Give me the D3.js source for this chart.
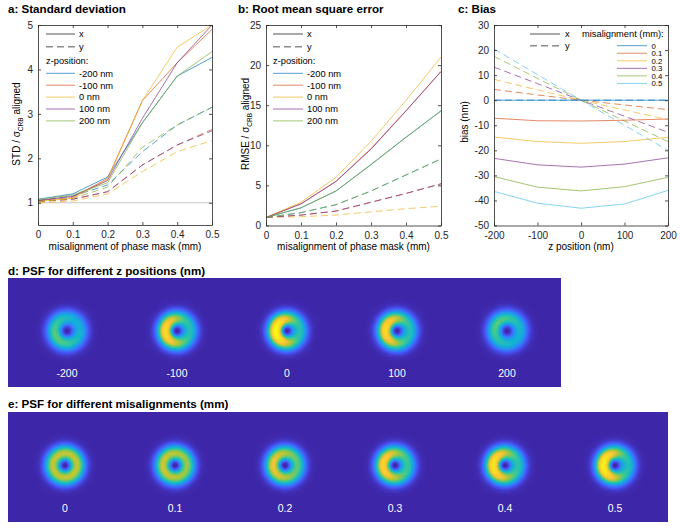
<!DOCTYPE html>
<html>
<head>
<meta charset="utf-8">
<script src="https://cdn.jsdelivr.net/npm/d3@7"></script>
<style>
body { margin: 0; background: #fff; }
text { font-family: "Liberation Sans", Arial, sans-serif; }
</style>
</head>
<body>
<script>
// ---- data ----
var misalign = [0, 0.1, 0.2, 0.3, 0.4, 0.5];
var zNames = ["-200 nm", "-100 nm", "0 nm", "100 nm", "200 nm"];
var zColors = ["#0072BD", "#D95319", "#EDB120", "#7E2F8E", "#77AC30"];

// a: STD / sigma_CRB aligned, per z position (rows) over misalignment
var stdX = [
    [1.08, 1.20, 1.58, 2.80, 3.85, 4.27],
    [1.05, 1.12, 1.55, 3.30, 4.15, 4.90],
    [1.03, 1.10, 1.52, 3.30, 4.50, 5.00],
    [1.05, 1.15, 1.50, 2.90, 4.15, 5.00],
    [1.07, 1.18, 1.45, 2.80, 3.85, 4.40]
];
var stdY = [
    [1.05, 1.15, 1.40, 2.15, 2.75, 3.15],
    [1.03, 1.08, 1.25, 1.85, 2.30, 2.65],
    [1.00, 1.04, 1.20, 1.70, 2.15, 2.40],
    [1.03, 1.08, 1.25, 1.85, 2.30, 2.62],
    [1.02, 1.10, 1.35, 2.25, 2.75, 3.15]
];

// b: RMSE / sigma_CRB aligned
var rmseX = [
    [1.0, 2.2, 4.3, 7.6, 11.0, 14.3],
    [1.0, 2.7, 5.5, 9.6, 14.3, 19.2],
    [1.0, 2.9, 6.0, 10.5, 15.6, 21.0],
    [1.0, 2.7, 5.5, 9.5, 14.3, 19.2],
    [1.0, 2.2, 4.3, 7.6, 11.0, 14.3]
];
var rmseY = [
    [1.0, 1.6, 2.6, 4.3, 6.3, 8.3],
    [1.0, 1.3, 1.8, 2.9, 4.0, 5.2],
    [1.0, 1.1, 1.3, 1.7, 2.1, 2.4],
    [1.0, 1.3, 1.8, 2.9, 4.0, 5.2],
    [1.0, 1.6, 2.6, 4.3, 6.3, 8.3]
];

// c: bias (nm) over z position, per misalignment
var zPos = [-200, -100, 0, 100, 200];
var misNames = ["0", "0.1", "0.2", "0.3", "0.4", "0.5"];
var misColors = ["#0072BD", "#D95319", "#EDB120", "#7E2F8E", "#77AC30", "#4DBEEE"];
var biasX = [
    [0, 0, 0, 0, 0],
    [-7.2, -8.2, -8.3, -8.0, -7.5],
    [-14.7, -16.5, -17.2, -16.5, -14.8],
    [-23.2, -25.8, -26.7, -25.5, -23.0],
    [-30.5, -34.7, -36.2, -34.5, -30.8],
    [-36.4, -41.1, -43.1, -41.4, -36.0]
];
var biasY = [
    [0, 0, 0, 0, 0],
    [4.3, 2.1, 0, -1.9, -3.8],
    [8.3, 4.1, 0, -3.9, -7.8],
    [13.2, 6.6, 0, -6.4, -12.8],
    [17.5, 8.7, 0, -8.3, -16.5],
    [20.5, 10.2, 0, -10.0, -20.0]
];

// d/e: PSF images
var psfZLabels = ["-200", "-100", "0", "100", "200"];
var psfZPeak = [0.55, 0.86, 1.0, 0.86, 0.54];
var psfZAsym = [0.2, 0.34, 0.4, 0.34, 0.18];
var psfZAngle = [150, 175, 180, 185, 215];
var psfZRadius = [12.5, 12, 11.5, 12, 12.5];
var psfMLabels = ["0", "0.1", "0.2", "0.3", "0.4", "0.5"];
var psfMPeak = [0.66, 0.68, 0.74, 0.83, 0.91, 0.97];
var psfMAsym = [0.0, 0.06, 0.16, 0.27, 0.34, 0.4];
var psfMAngle = [180, 180, 180, 180, 180, 180];
var psfMRadius = [12, 12, 12, 12, 12, 12];

var parulaStops = ["#3e26a8", "#4752f4", "#2d87f7", "#12b1d6", "#37c897",
                   "#abc739", "#fec338", "#f5e21c", "#f9fb15"];

// ---- drawing ----
var W = 680, H = 531;
var ink = "#262626";
var svg = d3.select("body").append("svg")
    .attr("width", W).attr("height", H);

function boxAxes(x, y, xTicks, yTicks) {
    var g = svg.append("g");
    var x0 = x.range()[0], x1 = x.range()[1], y0 = y.range()[0], y1 = y.range()[1];
    var fmt = function(d) { return String(d); };

    g.append("g").attr("transform", "translate(0," + y0 + ")")
        .call(d3.axisBottom(x).tickValues(xTicks).tickSize(-3).tickSizeOuter(0).tickPadding(6).tickFormat(fmt));
    g.append("g").attr("transform", "translate(0," + y1 + ")")
        .call(d3.axisTop(x).tickValues(xTicks).tickSize(-3).tickSizeOuter(0).tickFormat(""));
    g.append("g").attr("transform", "translate(" + x0 + ",0)")
        .call(d3.axisLeft(y).tickValues(yTicks).tickSize(-3).tickSizeOuter(0).tickPadding(5).tickFormat(fmt));
    g.append("g").attr("transform", "translate(" + x1 + ",0)")
        .call(d3.axisRight(y).tickValues(yTicks).tickSize(-3).tickSizeOuter(0).tickFormat(""));

    g.selectAll("path.domain").attr("stroke", ink).attr("stroke-width", 0.8);
    g.selectAll(".tick line").attr("stroke", ink).attr("stroke-width", 0.8);
    g.selectAll(".tick text").attr("fill", ink).style("font-size", "10px")
        .style("font-family", '"Liberation Sans", Arial, sans-serif');
    return g;
}

function drawSeries(layer, xs, rows, x, y, colors, dashed) {
    var line = d3.line().x(function(d, i) { return x(xs[i]); }).y(function(d) { return y(d); });
    layer.selectAll(null).data(rows).enter().append("path")
        .attr("d", line)
        .attr("fill", "none")
        .attr("stroke", function(d, i) { return colors[i]; })
        .attr("stroke-opacity", 0.68)
        .attr("stroke-width", 1)
        .attr("stroke-dasharray", dashed ? "7,4" : null);
}

function legendLine(g, xa, xb, yy, color, dashed, label, tx, size) {
    g.append("line").attr("x1", xa).attr("x2", xb).attr("y1", yy).attr("y2", yy)
        .attr("stroke", color).attr("stroke-width", 1.5)
        .attr("stroke-dasharray", dashed ? "7,4" : null);
    g.append("text").attr("x", tx).attr("y", yy + 3.3).attr("fill", "#000")
        .style("font-size", size + "px").text(label);
}

function title(tx, ty, s) {
    svg.append("text").attr("x", tx).attr("y", ty)
        .style("font-size", "11.6px").style("font-weight", "bold").text(s);
}

function ylabel(cx, cy, main, sub, rest) {
    var t = svg.append("text").attr("transform", "translate(" + cx + "," + cy + ") rotate(-90)")
        .attr("text-anchor", "middle").style("font-size", "10px").attr("fill", "#000");
    t.append("tspan").text(main);
    if (sub) {
        t.append("tspan").attr("dy", 2.5).style("font-size", "6.5px").text(sub);
        t.append("tspan").attr("dy", -2.5).text(rest);
    }
}

function xlabel(cx, cy, s) {
    svg.append("text").attr("x", cx).attr("y", cy).attr("text-anchor", "middle")
        .style("font-size", "10px").text(s);
}

function zLegend(g, xa, xb, tx) {
    legendLine(g, xa, xb, 34, "#8c8c8c", false, "x", tx, 9.3);
    legendLine(g, xa, xb, 46.7, "#8c8c8c", true, "y", tx, 9.3);
    g.append("text").attr("x", xa).attr("y", 64).style("font-size", "9.3px").text("z-position:");
    zNames.forEach(function(n, i) {
        g.append("line").attr("x1", xa).attr("x2", xb)
            .attr("y1", 73.3 + i * 11.9).attr("y2", 73.3 + i * 11.9)
            .attr("stroke", zColors[i]).attr("stroke-opacity", 0.68).attr("stroke-width", 1);
        g.append("text").attr("x", tx).attr("y", 76.6 + i * 11.9)
            .style("font-size", "9.3px").text(n);
    });
}

// ---------- panel a ----------
var xa = d3.scaleLinear().domain([0, 0.5]).range([38, 212]);
var ya = d3.scaleLinear().domain([0.5, 5]).range([225, 25]);
svg.append("line").attr("x1", xa(0)).attr("x2", xa(0.5)).attr("y1", ya(1)).attr("y2", ya(1))
    .attr("stroke", "#c8c8c8").attr("stroke-width", 1);
var la = svg.append("g");
drawSeries(la, misalign, stdY, xa, ya, zColors, true);
drawSeries(la, misalign, stdX, xa, ya, zColors, false);
boxAxes(xa, ya, misalign, [1, 2, 3, 4, 5]);
zLegend(svg.append("g"), 46, 75, 79);
title(8, 12.5, "a: Standard deviation");
ylabel(20, 124, "STD / \u03c3", "CRB", " aligned");
xlabel(125, 250, "misalignment of phase mask (mm)");

// ---------- panel b ----------
var xb = d3.scaleLinear().domain([0, 0.5]).range([266, 441]);
var yb = d3.scaleLinear().domain([0, 25]).range([225.5, 25]);
var lb = svg.append("g");
drawSeries(lb, misalign, rmseY, xb, yb, zColors, true);
drawSeries(lb, misalign, rmseX, xb, yb, zColors, false);
boxAxes(xb, yb, misalign, [0, 5, 10, 15, 20, 25]);
zLegend(svg.append("g"), 273, 303, 307);
title(238, 12.5, "b: Root mean square error");
ylabel(249, 124, "RMSE / \u03c3", "CRB", " aligned");
xlabel(353.5, 250, "misalignment of phase mask (mm)");

// ---------- panel c ----------
var xc = d3.scaleLinear().domain([-200, 200]).range([494, 668]);
var yc = d3.scaleLinear().domain([-50, 30]).range([225.5, 25]);
var lc = svg.append("g");
drawSeries(lc, zPos, biasY, xc, yc, misColors, true);
drawSeries(lc, zPos, biasX, xc, yc, misColors, false);
boxAxes(xc, yc, zPos, [-50, -40, -30, -20, -10, 0, 10, 20, 30]);
var gc = svg.append("g");
legendLine(gc, 530, 560, 34, "#8c8c8c", false, "x", 565, 9.3);
legendLine(gc, 530, 560, 45.7, "#8c8c8c", true, "y", 565, 9.3);
gc.append("text").attr("x", 582).attr("y", 37.3).style("font-size", "9.3px").text("misalignment (mm):");
misNames.forEach(function(n, i) {
    var yy = 45.7 + i * 7.55;
    gc.append("line").attr("x1", 617).attr("x2", 647).attr("y1", yy).attr("y2", yy)
        .attr("stroke", misColors[i]).attr("stroke-opacity", 0.68).attr("stroke-width", 1);
    gc.append("text").attr("x", 651.5).attr("y", yy + 2.8).style("font-size", "7.8px").text(n);
});
title(458, 12.5, "c: Bias");
ylabel(468, 122, "bias (nm)");
xlabel(581, 250, "z position (nm)");

// ---------- PSF panels ----------
var parula = d3.scaleLinear()
    .domain(d3.range(parulaStops.length).map(function(i) { return i / (parulaStops.length - 1); }))
    .range(parulaStops).interpolate(d3.interpolateRgb).clamp(true);

function psfPanel(bx, by, bw, bh, labels, peak, asym, angle, radius, bandRange, labelY) {
    var band = d3.scaleBand().domain(labels).range(bandRange);
    var cy = bh * 0.485;
    var canvas = document.createElement("canvas");
    canvas.width = bw; canvas.height = bh;
    var ctx = canvas.getContext("2d");
    var img = ctx.createImageData(bw, bh);
    var centers = labels.map(function(l) { return band(l) + band.bandwidth() / 2 - bx; });
    for (var py = 0; py < bh; py++) {
        for (var px = 0; px < bw; px++) {
            var v = 0;
            for (var k = 0; k < centers.length; k++) {
                var dx = px + 0.5 - centers[k], dy = py + 0.5 - cy;
                var r = Math.sqrt(dx * dx + dy * dy);
                if (r > 40) continue;
                var R0 = radius[k], s = 6;
                var ring = Math.exp(-(r - R0) * (r - R0) / (2 * s * s)) * (1 - Math.exp(-r * r / 16));
                var a = angle[k] * Math.PI / 180;
                var c = r > 0 ? (dx * Math.cos(a) + dy * Math.sin(a)) / r : 0;
                // crescent concentrated on the inner half of the ring
                var inner = Math.exp(-(r - R0 + 2) * (r - R0 + 2) / (2 * 5 * 5));
                var mod = (1 + asym[k] * c * (0.4 + 0.6 * inner)) / (1 + asym[k]);
                v += peak[k] * ring * mod;
            }
            var col = d3.rgb(parula(v));
            var o = (py * bw + px) * 4;
            img.data[o] = col.r; img.data[o + 1] = col.g; img.data[o + 2] = col.b; img.data[o + 3] = 255;
        }
    }
    ctx.putImageData(img, 0, 0);
    svg.append("image").attr("x", bx).attr("y", by).attr("width", bw).attr("height", bh)
        .attr("href", canvas.toDataURL());
    svg.append("g").selectAll("text").data(labels).enter().append("text")
        .attr("x", function(d) { return band(d) + band.bandwidth() / 2; })
        .attr("y", labelY)
        .attr("text-anchor", "middle").attr("fill", "#fff")
        .style("font-size", "10.5px").text(function(d) { return d; });
}

title(8, 275, "d: PSF for different z positions (nm)");
psfPanel(8, 278, 553, 109, psfZLabels, psfZPeak, psfZAsym, psfZAngle, psfZRadius, [12, 562], 377);

title(8, 408, "e: PSF for different misalignments (mm)");
psfPanel(8, 412, 660, 110, psfMLabels, psfMPeak, psfMAsym, psfMAngle, psfMRadius, [10, 670], 512);
</script>
</body>
</html>
